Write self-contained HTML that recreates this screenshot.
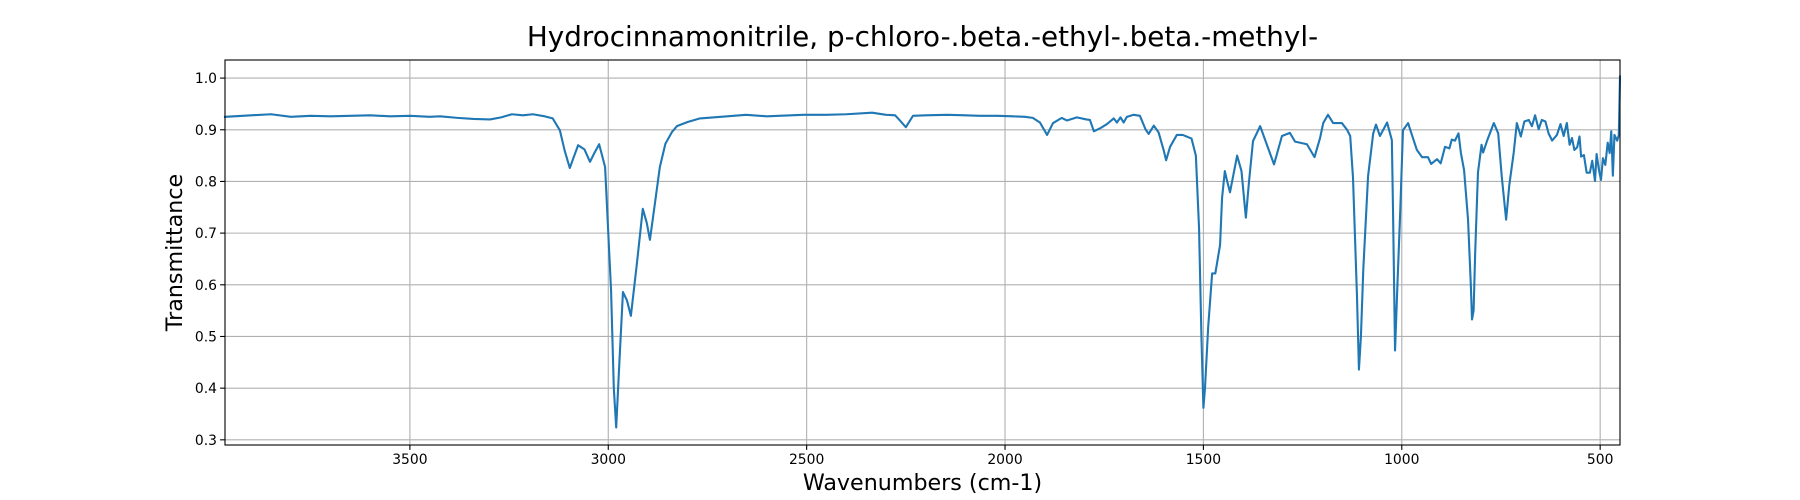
<!DOCTYPE html>
<html><head><meta charset="utf-8"><style>
html,body{margin:0;padding:0;background:#fff;}
svg{display:block;font-family:"DejaVu Sans","Liberation Sans",sans-serif;}
</style></head><body>
<svg id="chart" width="1800" height="500" viewBox="0 0 1800 500" xmlns="http://www.w3.org/2000/svg">
<rect width="1800" height="500" fill="#fff"/>
<text x="922.5" y="46" text-anchor="middle" font-size="27.8" fill="#000">Hydrocinnamonitrile, p-chloro-.beta.-ethyl-.beta.-methyl-</text>
<g id="grid"></g>
<g id="ticks"></g>
<g id="series"></g>
<rect x="225" y="60" width="1395" height="385" fill="none" stroke="#000" stroke-width="1.1"/>
<text x="922.5" y="490" text-anchor="middle" font-size="22.2">Wavenumbers (cm-1)</text>
<text transform="translate(182,252.5) rotate(-90)" text-anchor="middle" font-size="22.2">Transmittance</text>
</svg>
<script>
const xTicks = [3500, 3000, 2500, 2000, 1500, 1000, 500];
const yTicks = [0.3, 0.4, 0.5, 0.6, 0.7, 0.8, 0.9, 1.0];
const yTickLabels = ["0.3","0.4","0.5","0.6","0.7","0.8","0.9","1.0"];
const wavenumbers = [3966,3900,3850,3800,3750,3700,3650,3600,3550,3500,3450,3424,3380,3340,3298,3270,3243,3215,3190,3160,3140,3122,3110,3097,3088,3076,3060,3046,3035,3023,3008,3000,2993,2986,2980,2972,2963,2953,2943,2928,2913,2903,2895,2882,2870,2856,2840,2827,2800,2769,2700,2653,2600,2509,2450,2400,2335,2300,2277,2265,2250,2232,2200,2146,2100,2063,2020,1980,1950,1930,1912,1894,1879,1857,1844,1819,1795,1786,1776,1760,1743,1726,1718,1709,1701,1693,1676,1660,1646,1638,1625,1613,1600,1594,1584,1567,1552,1530,1519,1511,1505,1500,1496,1488,1478,1470,1458,1453,1446,1440,1433,1415,1404,1393,1385,1375,1357,1340,1322,1302,1282,1269,1239,1220,1206,1198,1186,1173,1151,1138,1130,1123,1113,1108,1103,1097,1085,1072,1065,1055,1037,1025,1022,1017,1011,1004,997,984,980,962,949,934,926,911,902,891,880,874,866,857,851,843,833,826,823,819,815,808,799,795,784,768,757,748,737,729,718,710,700,691,680,672,664,655,647,638,630,621,609,600,592,584,577,571,565,558,552,548,541,534,526,520,513,509,503,498,493,487,481,476,472,468,464,457,453,450];
const transmittance = [0.925,0.928,0.93,0.925,0.927,0.926,0.927,0.928,0.926,0.927,0.925,0.926,0.923,0.921,0.920,0.924,0.930,0.928,0.930,0.926,0.922,0.899,0.86,0.826,0.845,0.870,0.862,0.838,0.855,0.872,0.828,0.70,0.59,0.40,0.324,0.45,0.586,0.57,0.54,0.64,0.747,0.72,0.687,0.76,0.828,0.873,0.895,0.907,0.915,0.922,0.926,0.929,0.926,0.929,0.929,0.930,0.933,0.929,0.928,0.918,0.905,0.927,0.928,0.929,0.928,0.927,0.927,0.926,0.925,0.923,0.914,0.890,0.913,0.923,0.918,0.924,0.920,0.919,0.897,0.903,0.911,0.922,0.914,0.924,0.914,0.925,0.929,0.927,0.901,0.892,0.908,0.895,0.86,0.841,0.867,0.890,0.890,0.883,0.85,0.71,0.50,0.362,0.40,0.518,0.622,0.622,0.677,0.768,0.82,0.80,0.779,0.85,0.82,0.73,0.80,0.878,0.907,0.871,0.833,0.888,0.894,0.877,0.872,0.847,0.884,0.913,0.929,0.913,0.913,0.900,0.888,0.808,0.58,0.436,0.50,0.63,0.81,0.893,0.910,0.888,0.914,0.88,0.74,0.473,0.60,0.74,0.899,0.913,0.903,0.861,0.847,0.847,0.834,0.843,0.835,0.867,0.864,0.881,0.879,0.893,0.855,0.822,0.726,0.60,0.533,0.55,0.662,0.817,0.871,0.856,0.881,0.913,0.893,0.809,0.726,0.793,0.855,0.913,0.887,0.916,0.919,0.907,0.928,0.901,0.919,0.916,0.893,0.879,0.890,0.911,0.888,0.913,0.871,0.884,0.861,0.866,0.887,0.848,0.851,0.817,0.817,0.840,0.801,0.853,0.822,0.803,0.845,0.832,0.875,0.855,0.897,0.811,0.890,0.879,0.890,1.003];

const NS = "http://www.w3.org/2000/svg";
const L = 225, R = 1620, T = 60, B = 445;
const X0 = 3966, X1 = 450, Y0 = 0.290, Y1 = 1.035;
function xs(v){ return L + (X0 - v) / (X0 - X1) * (R - L); }
function ys(v){ return B - (v - Y0) / (Y1 - Y0) * (B - T); }
const grid = document.getElementById('grid');
const ticks = document.getElementById('ticks');
function mk(tag, attrs, parent){
  const e = document.createElementNS(NS, tag);
  for (const k in attrs) e.setAttribute(k, attrs[k]);
  parent.appendChild(e);
  return e;
}
xTicks.forEach(function(v){
  const x = xs(v);
  const g = mk('line', {x1:x, x2:x, y1:T, y2:B, stroke:'#b0b0b0', 'stroke-width':1.1}, grid);
  
  
  mk('line', {x1:x, x2:x, y1:B, y2:B+4.9, stroke:'#000', 'stroke-width':1.1}, ticks);
  const t = mk('text', {x:x, y:B+19, 'text-anchor':'middle', 'font-size':13.9}, ticks);
  t.textContent = String(v);
  
  
});
yTicks.forEach(function(v, i){
  const y = ys(v);
  const g = mk('line', {x1:L, x2:R, y1:y, y2:y, stroke:'#b0b0b0', 'stroke-width':1.1}, grid);
  
  
  mk('line', {x1:L-4.9, x2:L, y1:y, y2:y, stroke:'#000', 'stroke-width':1.1}, ticks);
  const t = mk('text', {x:L-8, y:y+5, 'text-anchor':'end', 'font-size':13.9}, ticks);
  t.textContent = yTickLabels[i];
  
  
});
let d = '';
wavenumbers.forEach(function(w, i){
  d += (i ? 'L' : 'M') + xs(w).toFixed(2) + ',' + ys(transmittance[i]).toFixed(2);
});
const p = mk('path', {d:d, fill:'none', stroke:'#1f77b4', 'stroke-width':2.1, 'stroke-linejoin':'round', 'stroke-linecap':'square'}, document.getElementById('series'));


</script>
</body></html>
